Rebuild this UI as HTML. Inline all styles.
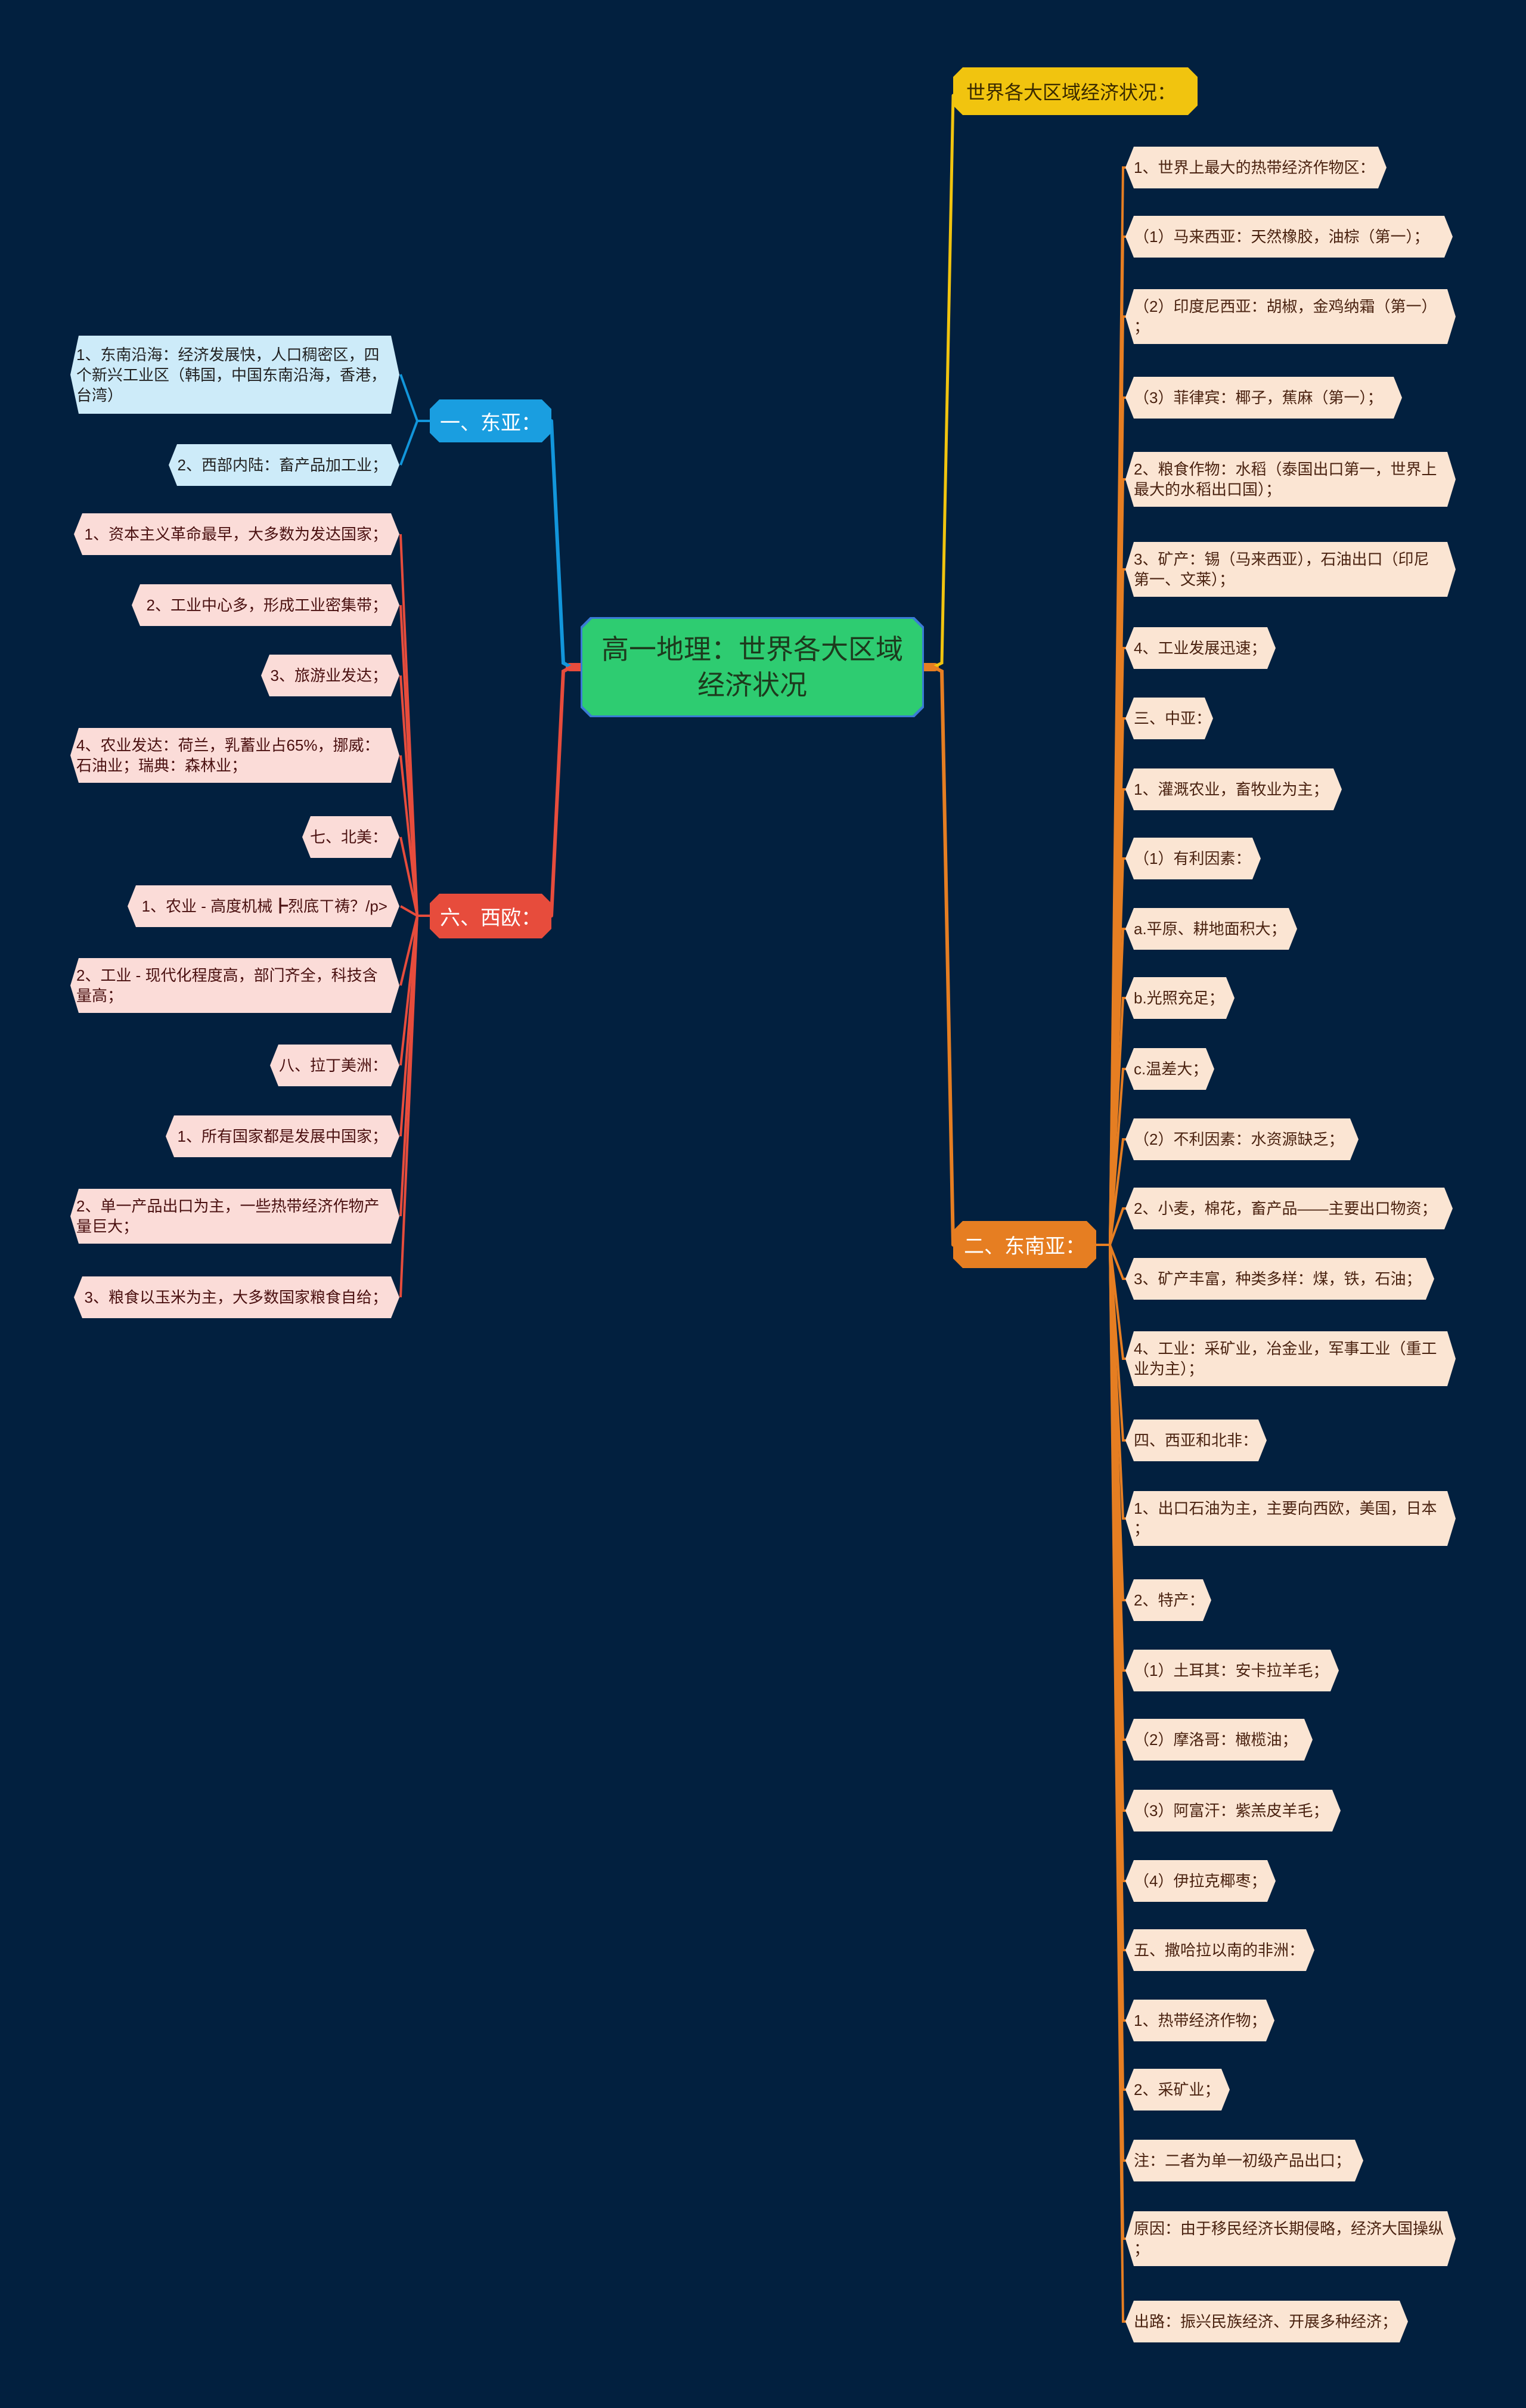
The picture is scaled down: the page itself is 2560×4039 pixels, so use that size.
<!DOCTYPE html>
<html><head><meta charset="utf-8">
<style>
html,body{margin:0;padding:0}
body{width:2560px;height:4039px;background:#02203f;position:relative;overflow:hidden;font-family:"Liberation Sans","Noto Sans CJK SC",sans-serif}
.n{position:absolute;box-sizing:border-box;display:flex;align-items:center;font-size:26px;line-height:34px;color:#4a2210;clip-path:polygon(14px 0,calc(100% - 14px) 0,100% 50%,calc(100% - 14px) 100%,14px 100%,0 50%);padding:0 16px 0 14px;white-space:nowrap}
.r{background:#fbe5d3}
.r{padding-left:14px}
.b{background:#cdebf9;color:#222}
.p{background:#fbdcd8;color:#4a1010;justify-content:flex-end;padding-right:20px}
.m{position:absolute;box-sizing:border-box;display:flex;align-items:center;justify-content:center;text-align:center;clip-path:polygon(16px 0,calc(100% - 16px) 0,100% 16px,100% calc(100% - 16px),calc(100% - 16px) 100%,16px 100%,0 calc(100% - 16px),0 16px)}
</style></head><body>
<svg width="2560" height="4039" style="position:absolute;left:0;top:0" fill="none">
<g stroke-linecap="round">
<!-- center to right -->
<path d="M1550 1119 L1568 1119" stroke="#e67e22" stroke-width="14"/>
<path d="M1566 1119 L1580 1112 L1599 160" stroke="#f1c40f" stroke-width="5"/>
<path d="M1566 1119 L1580 1126 L1599 2088" stroke="#e67e22" stroke-width="6"/>
<!-- center to left -->
<path d="M974 1119 L956 1119" stroke="#e74c3c" stroke-width="14"/>
<path d="M958 1119 L945 1112 L925 706" stroke="#1296db" stroke-width="6"/>
<path d="M958 1119 L945 1126 L925 1536" stroke="#e74c3c" stroke-width="6"/>
</g>
<g stroke="#e67e22" stroke-width="4">
<path d="M1839 2088 L1862 2088 L1884 281 L1890 281"/>
<path d="M1862 2088 L1884 397 L1890 397"/>
<path d="M1862 2088 L1884 531 L1890 531"/>
<path d="M1862 2088 L1884 667 L1890 667"/>
<path d="M1862 2088 L1884 804 L1890 804"/>
<path d="M1862 2088 L1884 955 L1890 955"/>
<path d="M1862 2088 L1884 1087 L1890 1087"/>
<path d="M1862 2088 L1884 1205 L1890 1205"/>
<path d="M1862 2088 L1884 1324 L1890 1324"/>
<path d="M1862 2088 L1884 1440 L1890 1440"/>
<path d="M1862 2088 L1884 1558 L1890 1558"/>
<path d="M1862 2088 L1884 1674 L1890 1674"/>
<path d="M1862 2088 L1884 1793 L1890 1793"/>
<path d="M1862 2088 L1884 1911 L1890 1911"/>
<path d="M1862 2088 L1884 2027 L1890 2027"/>
<path d="M1862 2088 L1884 2145 L1890 2145"/>
<path d="M1862 2088 L1884 2279 L1890 2279"/>
<path d="M1862 2088 L1884 2416 L1890 2416"/>
<path d="M1862 2088 L1884 2547 L1890 2547"/>
<path d="M1862 2088 L1884 2684 L1890 2684"/>
<path d="M1862 2088 L1884 2802 L1890 2802"/>
<path d="M1862 2088 L1884 2918 L1890 2918"/>
<path d="M1862 2088 L1884 3037 L1890 3037"/>
<path d="M1862 2088 L1884 3155 L1890 3155"/>
<path d="M1862 2088 L1884 3271 L1890 3271"/>
<path d="M1862 2088 L1884 3389 L1890 3389"/>
<path d="M1862 2088 L1884 3505 L1890 3505"/>
<path d="M1862 2088 L1884 3624 L1890 3624"/>
<path d="M1862 2088 L1884 3755 L1890 3755"/>
<path d="M1862 2088 L1884 3894 L1890 3894"/>
</g>
<g stroke="#1296db" stroke-width="4">
<path d="M721 706 L700 706 L672 628"/>
<path d="M700 706 L672 780"/>
</g>
<g stroke="#e74c3c" stroke-width="4">
<path d="M721 1536 L700 1536 L672 896"/>
<path d="M700 1536 L672 1015"/>
<path d="M700 1536 L672 1133"/>
<path d="M700 1536 L672 1267"/>
<path d="M700 1536 L672 1404"/>
<path d="M700 1536 L672 1520"/>
<path d="M700 1536 L672 1653"/>
<path d="M700 1536 L672 1787"/>
<path d="M700 1536 L672 1906"/>
<path d="M700 1536 L672 2040"/>
<path d="M700 1536 L672 2176"/>
</g>
</svg>

<div class="m" style="left:974px;top:1035px;width:576px;height:168px;background:#3a7bd5;">
<div class="m" style="left:3px;top:3px;width:570px;height:162px;background:#2ed573;background:#2ecc71;font-size:46px;line-height:60px;color:#1d3a1d;">高一地理：世界各大区域<br>经济状况</div></div>

<div class="m" style="left:1599px;top:113px;width:410px;height:80px;background:#f1c40f;font-size:32px;color:#3a2a00;justify-content:flex-start;padding-left:22px">世界各大区域经济状况：</div>
<div class="m" style="left:1599px;top:2048px;width:240px;height:79px;background:#e67e22;font-size:34px;color:#fff;">二、东南亚：</div>
<div class="m" style="left:721px;top:670px;width:204px;height:72px;background:#1a9ee0;font-size:34px;color:#fff;">一、东亚：</div>
<div class="m" style="left:721px;top:1499px;width:204px;height:75px;background:#e74c3c;font-size:34px;color:#fff;">六、西欧：</div>

<!-- right leaves -->
<div class="n r" style="left:1888px;top:246px;width:438px;height:70px">1、世界上最大的热带经济作物区：</div>
<div class="n r" style="left:1888px;top:362px;width:549px;height:70px">（1）马来西亚：天然橡胶，油棕（第一）；</div>
<div class="n r" style="left:1888px;top:485px;width:554px;height:92px">（2）印度尼西亚：胡椒，金鸡纳霜（第一）<br>；</div>
<div class="n r" style="left:1888px;top:632px;width:464px;height:70px">（3）菲律宾：椰子，蕉麻（第一）；</div>
<div class="n r" style="left:1888px;top:758px;width:554px;height:92px">2、粮食作物：水稻（泰国出口第一，世界上<br>最大的水稻出口国）；</div>
<div class="n r" style="left:1888px;top:909px;width:554px;height:92px">3、矿产：锡（马来西亚），石油出口（印尼<br>第一、文莱）；</div>
<div class="n r" style="left:1888px;top:1052px;width:252px;height:70px">4、工业发展迅速；</div>
<div class="n r" style="left:1888px;top:1170px;width:147px;height:70px">三、中亚：</div>
<div class="n r" style="left:1888px;top:1289px;width:363px;height:70px">1、灌溉农业，畜牧业为主；</div>
<div class="n r" style="left:1888px;top:1405px;width:227px;height:70px">（1）有利因素：</div>
<div class="n r" style="left:1888px;top:1523px;width:288px;height:70px">a.平原、耕地面积大；</div>
<div class="n r" style="left:1888px;top:1639px;width:183px;height:70px">b.光照充足；</div>
<div class="n r" style="left:1888px;top:1758px;width:149px;height:70px">c.温差大；</div>
<div class="n r" style="left:1888px;top:1876px;width:391px;height:70px">（2）不利因素：水资源缺乏；</div>
<div class="n r" style="left:1888px;top:1992px;width:549px;height:70px">2、小麦，棉花，畜产品——主要出口物资；</div>
<div class="n r" style="left:1888px;top:2110px;width:518px;height:70px">3、矿产丰富，种类多样：煤，铁，石油；</div>
<div class="n r" style="left:1888px;top:2233px;width:554px;height:92px">4、工业：采矿业，冶金业，军事工业（重工<br>业为主）；</div>
<div class="n r" style="left:1888px;top:2381px;width:237px;height:70px">四、西亚和北非：</div>
<div class="n r" style="left:1888px;top:2501px;width:554px;height:92px">1、出口石油为主，主要向西欧，美国，日本<br>；</div>
<div class="n r" style="left:1888px;top:2649px;width:144px;height:70px">2、特产：</div>
<div class="n r" style="left:1888px;top:2767px;width:358px;height:70px">（1）土耳其：安卡拉羊毛；</div>
<div class="n r" style="left:1888px;top:2883px;width:314px;height:70px">（2）摩洛哥：橄榄油；</div>
<div class="n r" style="left:1888px;top:3002px;width:361px;height:70px">（3）阿富汗：紫羔皮羊毛；</div>
<div class="n r" style="left:1888px;top:3120px;width:252px;height:70px">（4）伊拉克椰枣；</div>
<div class="n r" style="left:1888px;top:3236px;width:317px;height:70px">五、撒哈拉以南的非洲：</div>
<div class="n r" style="left:1888px;top:3354px;width:250px;height:70px">1、热带经济作物；</div>
<div class="n r" style="left:1888px;top:3470px;width:175px;height:70px">2、采矿业；</div>
<div class="n r" style="left:1888px;top:3589px;width:399px;height:70px">注：二者为单一初级产品出口；</div>
<div class="n r" style="left:1888px;top:3709px;width:554px;height:92px">原因：由于移民经济长期侵略，经济大国操纵<br>；</div>
<div class="n r" style="left:1888px;top:3859px;width:474px;height:70px">出路：振兴民族经济、开展多种经济；</div>

<!-- left leaves -->
<div class="n b" style="left:118px;top:563px;width:552px;height:131px;justify-content:flex-start;padding-left:10px">1、东南沿海：经济发展快，人口稠密区，四<br>个新兴工业区（韩国，中国东南沿海，香港，<br>台湾）</div>
<div class="n b" style="left:283px;top:745px;width:387px;height:70px;justify-content:flex-end;padding-right:20px">2、西部内陆：畜产品加工业；</div>

<div class="n p" style="left:124px;top:861px;width:546px;height:70px">1、资本主义革命最早，大多数为发达国家；</div>
<div class="n p" style="left:221px;top:980px;width:449px;height:70px">2、工业中心多，形成工业密集带；</div>
<div class="n p" style="left:438px;top:1098px;width:232px;height:70px">3、旅游业发达；</div>
<div class="n p" style="left:118px;top:1221px;width:552px;height:92px;justify-content:flex-start;padding-left:10px">4、农业发达：荷兰，乳蓄业占65%，挪威：<br>石油业；瑞典：森林业；</div>
<div class="n p" style="left:507px;top:1369px;width:163px;height:70px">七、北美：</div>
<div class="n p" style="left:214px;top:1485px;width:456px;height:70px">1、农业 - 高度机械┣烈底ㄒ祷？/p&gt;</div>
<div class="n p" style="left:118px;top:1607px;width:552px;height:92px;justify-content:flex-start;padding-left:10px">2、工业 - 现代化程度高，部门齐全，科技含<br>量高；</div>
<div class="n p" style="left:453px;top:1752px;width:217px;height:70px">八、拉丁美洲：</div>
<div class="n p" style="left:278px;top:1871px;width:392px;height:70px">1、所有国家都是发展中国家；</div>
<div class="n p" style="left:118px;top:1994px;width:552px;height:92px;justify-content:flex-start;padding-left:10px">2、单一产品出口为主，一些热带经济作物产<br>量巨大；</div>
<div class="n p" style="left:124px;top:2141px;width:546px;height:70px">3、粮食以玉米为主，大多数国家粮食自给；</div>
</body></html>
